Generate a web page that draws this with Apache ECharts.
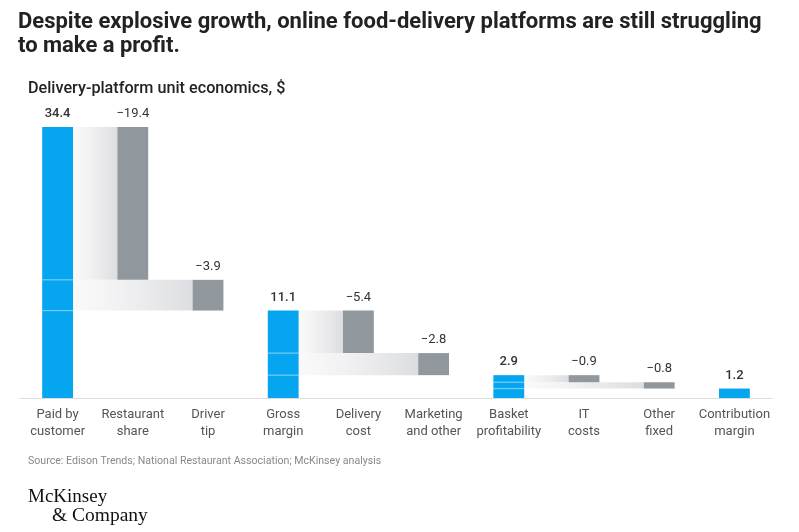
<!DOCTYPE html>
<html>
<head>
<meta charset="utf-8">
<script src="https://cdn.jsdelivr.net/npm/echarts@6/dist/echarts.min.js"></script>
<style>
html,body{margin:0;padding:0;background:#fff;}
#chart{width:799px;height:532px;}
</style>
</head>
<body>
<div id="chart"></div>
<script>
const categories = ['Paid by\ncustomer','Restaurant\nshare','Driver\ntip','Gross\nmargin','Delivery\ncost','Marketing\nand other','Basket\nprofitability','IT\ncosts','Other\nfixed','Contribution\nmargin'];
const values = [34.4, -19.4, -3.9, 11.1, -5.4, -2.8, 2.9, -0.9, -0.8, 1.2];
const kinds = ['total','delta','delta','total','delta','delta','total','delta','delta','total'];

// Build waterfall segments from the values
const barData = [];
const anchorIdx = [];
const splitLevels = values.map(() => []);
let running = 0, anchor = 0;
values.forEach((v, i) => {
  if (kinds[i] === 'total') {
    running = v; anchor = i;
    barData.push([i, 0, v, 0]);
  } else {
    const s = running, e = running + v;
    barData.push([i, s, e, 1]);
    splitLevels[anchor].push(e);
    running = e;
  }
  anchorIdx.push(anchor);
});

const BLUE = '#06a5ef';
const GRAY = '#91989d';
const BW = 0.41;

function fmt(v){ return v < 0 ? '\u2212' + Math.abs(v).toFixed(1) : v.toFixed(1); }

const chart = echarts.init(document.getElementById('chart'));
chart.setOption({
  animation: false,
  backgroundColor: '#fff',
  title: [
    { text: 'Despite explosive growth, online food-delivery platforms are still struggling\nto make a profit.',
      left: 18, top: 10, padding: 0,
      textStyle: { fontFamily: 'Roboto', fontWeight: 'bold', fontSize: 22, lineHeight: 24, color: '#222' } },
    { text: 'Delivery-platform unit economics, $', left: 28, top: 81, padding: 0,
      textStyle: { fontFamily: 'Roboto', fontWeight: 500, fontSize: 16.2, color: '#222' } },
    { text: 'Source: Edison Trends; National Restaurant Association; McKinsey analysis', left: 28, top: 456, padding: 0,
      textStyle: { fontFamily: 'Roboto', fontWeight: 'normal', fontSize: 10.6, color: '#888' } },
    { text: 'McKinsey', left: 28, top: 488, padding: 0,
      textStyle: { fontFamily: 'Liberation Serif', fontWeight: 'normal', fontSize: 19, color: '#111' } },
    { text: '& Company', left: 52, top: 506, padding: 0,
      textStyle: { fontFamily: 'Liberation Serif', fontWeight: 'normal', fontSize: 19.5, color: '#111' } }
  ],
  grid: { left: 20, right: 27, top: 127, bottom: 134, containLabel: false },
  xAxis: {
    type: 'category', data: categories,
    axisLine: { show: true, lineStyle: { color: '#dcdcdc', width: 1 } },
    axisTick: { show: false },
    axisLabel: { interval: 0, color: '#555', fontFamily: 'Roboto', fontSize: 13, lineHeight: 17, margin: 8 }
  },
  yAxis: { type: 'value', min: 0, max: 34.4, show: false, splitLine: { show: false } },
  series: [
    {
      type: 'custom', z: 1, clip: false,
      data: barData,
      encode: { x: 0, y: [1, 2] },
      renderItem: function (params, api) {
        const i = api.value(0);
        if (api.value(3) !== 1) return null;
        const w = api.size([1, 0])[0] * BW;
        const p0 = api.coord([i, api.value(1)]);
        const p1 = api.coord([i, api.value(2)]);
        const ax = api.coord([anchorIdx[i], 0])[0] + w / 2;
        const x = p0[0] - w / 2;
        const y0 = Math.min(p0[1], p1[1]), y1 = Math.max(p0[1], p1[1]);
        return {
          type: 'rect',
          shape: { x: ax, y: y0, width: x - ax, height: y1 - y0 },
          style: { fill: new echarts.graphic.LinearGradient(0, 0, 1, 0, [
            { offset: 0, color: 'rgba(246,246,247,0.6)' },
            { offset: 1, color: '#dcdde0' }
          ]) }
        };
      }
    },
    {
      type: 'custom', z: 2, clip: false,
      data: barData,
      encode: { x: 0, y: [1, 2] },
      renderItem: function (params, api) {
        const i = api.value(0);
        const isDelta = api.value(3) === 1;
        const w = api.size([1, 0])[0] * BW;
        const p0 = api.coord([i, api.value(1)]);
        const p1 = api.coord([i, api.value(2)]);
        const x = p0[0] - w / 2;
        const y0 = Math.min(p0[1], p1[1]), y1 = Math.max(p0[1], p1[1]);
        const children = [{
          type: 'rect',
          shape: { x: x, y: y0, width: w, height: y1 - y0 },
          style: { fill: isDelta ? GRAY : BLUE }
        }];
        if (!isDelta) {
          splitLevels[i].forEach(lv => {
            const yy = api.coord([i, lv])[1];
            children.push({
              type: 'line',
              shape: { x1: x, y1: yy, x2: x + w, y2: yy },
              style: { stroke: 'rgba(255,255,255,0.45)', lineWidth: 1.2 }
            });
          });
        }
        children.push({
          type: 'text',
          style: {
            x: p0[0], y: y0 - 13,
            text: fmt(values[i]),
            textAlign: 'center', textVerticalAlign: 'middle',
            fontFamily: 'Roboto', fontSize: 13,
            fontWeight: isDelta ? 'normal' : 500,
            fill: '#333'
          }
        });
        return { type: 'group', children: children };
      }
    }
  ]
});
</script>
</body>
</html>
